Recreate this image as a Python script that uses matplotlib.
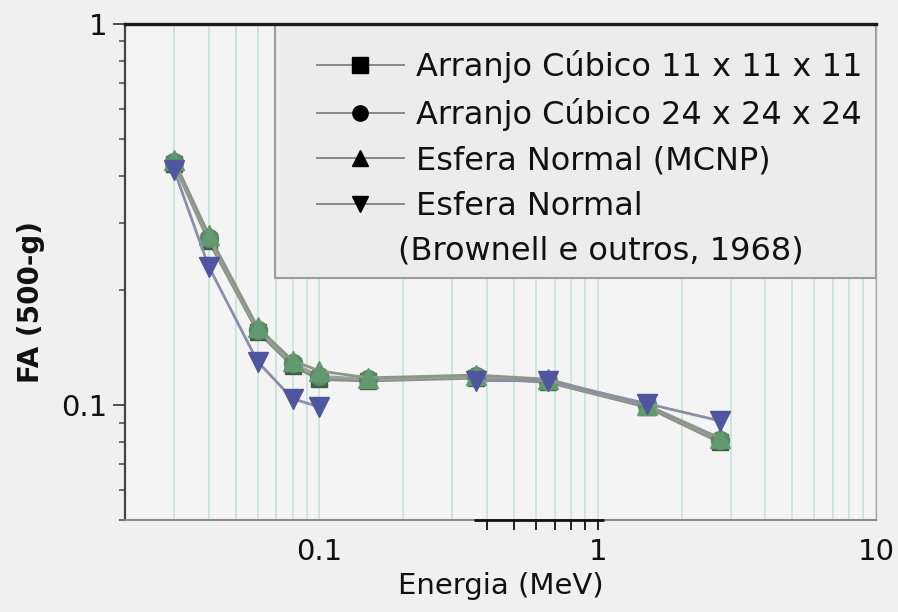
import numpy as np
import matplotlib
matplotlib.use("Agg")
import matplotlib.pyplot as plt
from matplotlib.lines import Line2D
from matplotlib.patches import Rectangle
from matplotlib.ticker import LogLocator, NullFormatter, FixedLocator, FixedFormatter

plt.rcParams['font.family'] = ['DejaVu Sans']

energy = [0.03, 0.04, 0.06, 0.08, 0.1, 0.15, 0.364, 0.662, 1.5, 2.75]
cubic_11 = [0.430, 0.270, 0.156, 0.127, 0.117, 0.116, 0.118, 0.115, 0.099, 0.080]
cubic_24 = [0.435, 0.275, 0.158, 0.129, 0.119, 0.117, 0.119, 0.116, 0.100, 0.081]
sphere_mcnp = [0.440, 0.280, 0.160, 0.131, 0.123, 0.118, 0.120, 0.117, 0.100, 0.082]
brownell = [0.415, 0.231, 0.130, 0.104, 0.099, np.nan, 0.116, 0.116, 0.101, 0.091]

labels = ["Arranjo Cúbico 11 x 11 x 11", "Arranjo Cúbico 24 x 24 x 24",
          "Esfera Normal (MCNP)", "Esfera Normal"]
extra_label = "(Brownell e outros, 1968)"
x_ticks = [0.1, 1, 10]
x_tick_labels = ["0.1", "1", "10"]
y_ticks = [0.1, 1]
y_tick_labels = ["0.1", "1"]

fig = plt.figure(figsize=(8.98, 6.12), dpi=100, facecolor='#f0f0f0')
ax = fig.add_axes([125/898, 1-520/612, 751/898, 496/612])
ax.set_facecolor('#f3f4f3')
ax.set_xscale('log')
ax.set_yscale('log')
ax.set_xlim(0.02, 10)
ax.set_ylim(0.05, 1)

# x axis: vertical grid at every decade subdivision
ax.xaxis.set_major_locator(FixedLocator(x_ticks))
ax.xaxis.set_major_formatter(FixedFormatter(x_tick_labels))
ax.xaxis.set_minor_locator(LogLocator(base=10, subs=np.arange(2, 10)))
ax.xaxis.set_minor_formatter(NullFormatter())
ax.grid(True, which='both', axis='x', color='#c9e3dd', lw=1.3, zorder=0)
ax.tick_params(axis='x', which='both', length=7, width=1.3, color='#111111',
               labelsize=21, pad=6, labelcolor='#111111')

ax.yaxis.set_major_locator(FixedLocator(y_ticks))
ax.yaxis.set_major_formatter(FixedFormatter(y_tick_labels))
ax.yaxis.set_minor_locator(LogLocator(base=10, subs=np.arange(2, 10)))
ax.yaxis.set_minor_formatter(NullFormatter())
ax.tick_params(axis='y', which='major', length=9, width=1.2, labelsize=21, color='#333333',
               labelcolor='#111111', pad=4)
ax.tick_params(axis='y', which='minor', length=4, width=1.2, color='#555555')

ax.set_xlabel("Energia (MeV)", fontsize=21, labelpad=4, color='#111111')
ax.set_ylabel("FA (500-g)", fontsize=20, fontweight='bold', color='#111111')
ax.yaxis.set_label_coords(-0.106, 0.44)

for side, c, w in [('top', '#1a1a1a', 2.4), ('left', '#444444', 1.6),
                   ('bottom', '#888888', 1.4), ('right', '#aaaaaa', 1.0)]:
    ax.spines[side].set_color(c)
    ax.spines[side].set_linewidth(w)
    ax.spines[side].set_zorder(10)

green = '#62996e'
blue = '#4f559f'
ax.plot(energy, cubic_11, '-s', color='#8a8f88', mfc='#445a46', mec='#445a46', ms=12, lw=2.4, zorder=3)
ax.plot(energy, cubic_24, '-o', color='#9aa298', mfc='#5a8a63', mec='#5a8a63', ms=13, lw=2.2, zorder=3)
ax.plot(energy, sphere_mcnp, '-^', color='#8b968b', mfc=green, mec=green, ms=14, lw=2.0, zorder=4)
ax.plot(energy, brownell, '-v', color='#8a8fa8', mfc=blue, mec=blue, ms=14, lw=2.0, zorder=5)

# legend box
ax.add_patch(Rectangle((0.2, 0.488), 0.8, 0.512, transform=ax.transAxes,
                       facecolor='#ececec', edgecolor='#9a9a9a', lw=1.5, zorder=6))
handles = [Line2D([], [], color='#888888', marker=m, mfc='black', mec='black', ms=11, lw=1.4)
           for m in ['s', 'o', '^', 'v']]
leg = ax.legend(handles, labels, loc='upper left', bbox_to_anchor=(0.239, 0.973),
                frameon=False, fontsize=23, handlelength=2.7, handletextpad=0.38,
                labelspacing=0.46, borderaxespad=0)
leg.set_zorder(7)
ax.text(0.3635, 0.543, extra_label, transform=ax.transAxes, fontsize=23,
        color='#111111', zorder=8, va='center', ha='left')
for t in leg.get_texts():
    t.set_color('#111111')

# bottom axis: only the ticks between 0.4 and 1 are drawn, over a dark segment
fig.canvas.draw()
for t, loc in zip(ax.xaxis.get_minor_ticks(), ax.xaxis.get_minorticklocs()):
    t.tick1line.set_visible(0.35 < loc < 0.95)
for t, loc in zip(ax.xaxis.get_major_ticks(), ax.xaxis.get_majorticklocs()):
    t.tick1line.set_visible(abs(loc - 1) < 1e-9)
ax.hlines(0.05, 0.36, 1.05, colors='#111111', lw=2.0, zorder=11, clip_on=False)

fig.savefig("out.png", dpi=100, facecolor=fig.get_facecolor())
